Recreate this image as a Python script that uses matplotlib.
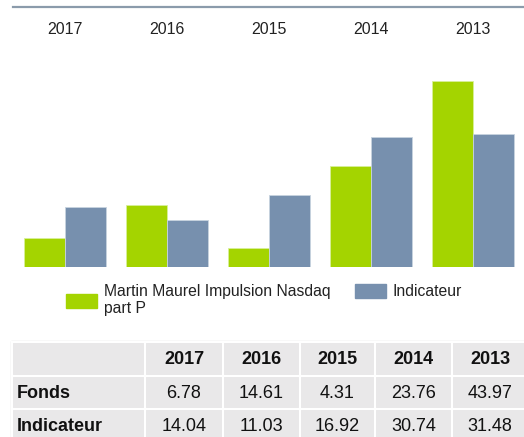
import matplotlib
matplotlib.use("Agg")
import matplotlib.pyplot as plt
from matplotlib.patches import Rectangle
from matplotlib.lines import Line2D
import numpy as np

plt.rcParams['font.family'] = ['Liberation Sans', 'DejaVu Sans']

years = ["2017", "2016", "2015", "2014", "2013"]
fonds = [6.78, 14.61, 4.31, 23.76, 43.97]
indicateur = [14.04, 11.03, 16.92, 30.74, 31.48]
series_names = ["Martin Maurel Impulsion Nasdaq\npart P", "Indicateur"]
row_labels = ["Fonds", "Indicateur"]

green = "#a4d400"
blue = "#7790ae"

W, H = 524, 437
fig = plt.figure(figsize=(W / 100, H / 100), dpi=100)

def fx(px):
    return px / W

def fy(py):
    return 1 - py / H

# top rule
fig.add_artist(Line2D([fx(13), 1], [fy(6.5), fy(6.5)], color="#8b9bab", lw=1.6))

# chart axes
ax_left, ax_right, ax_top, ax_bot = 14, 524, 40, 266.7
ax = fig.add_axes([fx(ax_left), fy(ax_bot), fx(ax_right - ax_left), (ax_bot - ax_top) / H])
x = np.arange(len(years))
bw = 0.402
ax.bar(x - bw / 2, fonds, bw, color=green, edgecolor="#d8ef9a", linewidth=0.6, label=series_names[0])
ax.bar(x + bw / 2, indicateur, bw, color=blue, edgecolor="#c8d3df", linewidth=0.6, label=series_names[1])
ax.set_xlim(-0.5, 4.5)
ax.set_ylim(0, (ax_bot - ax_top) / 4.23)
ax.set_yticks([])
ax.xaxis.tick_top()
ax.set_xticks(x)
ax.set_xticklabels(years, fontsize=11.5, color="#222222")
ax.tick_params(axis="x", length=0, pad=2.5)
for s in ax.spines.values():
    s.set_visible(False)

# legend (manual layout)
fig.add_artist(Rectangle((fx(66), fy(307.5)), fx(31), (307.5 - 294) / H, color=green, transform=fig.transFigure))
fig.text(fx(104), fy(284), series_names[0], fontsize=11.3, va="top", ha="left", color="#222222", linespacing=1.2)
fig.add_artist(Rectangle((fx(355), fy(297.5)), fx(31), (297.5 - 284) / H, color=blue, transform=fig.transFigure))
fig.text(fx(393), fy(284), series_names[1], fontsize=11.3, va="top", ha="left", color="#222222")

# table
col_edges = [12, 145, 223, 300, 375, 452, 530]
row_edges = [342, 376, 409, 442]
cell_bg = "#e9e8e9"
header = [""] + years
rows = [header,
        [row_labels[0]] + [f"{v:.2f}" for v in fonds],
        [row_labels[1]] + [f"{v:.2f}" for v in indicateur]]
fig.add_artist(Rectangle((fx(11), fy(row_edges[-1])), fx(530 - 11), (row_edges[-1] - 341) / H,
                         facecolor="none", edgecolor="#dddddd", lw=1, transform=fig.transFigure))
for r in range(3):
    for c in range(6):
        x0, x1 = col_edges[c], col_edges[c + 1]
        y0, y1 = row_edges[r], row_edges[r + 1]
        fig.add_artist(Rectangle((fx(x0), fy(y1)), fx(x1 - x0), (y1 - y0) / H,
                                 facecolor=cell_bg, edgecolor="white", lw=1.5, transform=fig.transFigure))
        txt = rows[r][c]
        if not txt:
            continue
        bold = (r == 0) or (c == 0)
        ycen = (y0 + y1) / 2 + 1
        if c == 0:
            fig.text(fx(x0 + 5), fy(ycen), txt, fontsize=13, fontweight="bold",
                     ha="left", va="center", color="#111111")
        else:
            xc = (x0 + x1) / 2 if c < 5 else x0 + 38
            fig.text(fx(xc), fy(ycen), txt, fontsize=13,
                     fontweight="bold" if bold else "normal", ha="center", va="center", color="#111111")

fig.savefig("out.png", dpi=100)
